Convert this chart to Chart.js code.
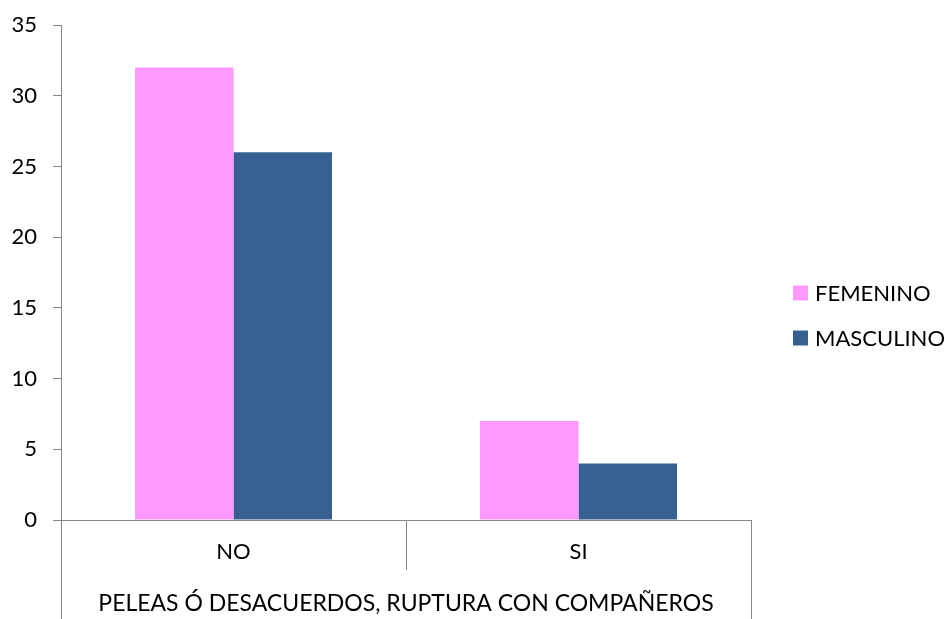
<!DOCTYPE html>
<html>
<head>
<meta charset="utf-8">
<script src="https://cdn.jsdelivr.net/npm/chart.js@4"></script>
<style>
  html, body { margin: 0; padding: 0; background: #fff; }
  #wrap { width: 945px; height: 619px; }
</style>
</head>
<body>
<div id="wrap"><canvas id="c" width="945" height="619"></canvas></div>
<script>
const categories = ['NO', 'SI'];
const groupTitle = 'PELEAS Ó DESACUERDOS, RUPTURA CON COMPAÑEROS';
const seriesNames = ['FEMENINO', 'MASCULINO'];
const femenino = [32, 7];
const masculino = [26, 4];
const yTicks = [0, 5, 10, 15, 20, 25, 30, 35];

const FONT = 'Lato, "Open Sans", sans-serif';
const AXIS = '#868686';
const COLORS = ['#FF99FF', '#376092'];

// Outer group borders below the category row and a right-hand legend
const extras = {
  id: 'extras',
  afterDraw(chart) {
    const ctx = chart.ctx;
    const a = chart.chartArea;
    ctx.save();
    ctx.strokeStyle = AXIS;
    ctx.lineWidth = 1;
    [a.left, a.right].forEach(x => {
      const px = Math.round(x) + 0.5;
      ctx.beginPath();
      ctx.moveTo(px, a.bottom);
      ctx.lineTo(px, chart.height);
      ctx.stroke();
    });
    // legend
    const lx = a.right + 42, ys = [293, 338];
    ctx.font = '22px ' + FONT;
    ctx.textBaseline = 'middle';
    ctx.fillStyle = '#000';
    chart.data.datasets.forEach((ds, i) => {
      ctx.fillStyle = ds.backgroundColor;
      ctx.fillRect(lx, ys[i] - 7.5, 15, 15);
      ctx.fillStyle = '#000';
      ctx.fillText(ds.label, lx + 22, ys[i] + 1);
    });
    ctx.restore();
  }
};

new Chart(document.getElementById('c'), {
  type: 'bar',
  data: {
    labels: categories,
    datasets: [
      { label: seriesNames[0], data: femenino, backgroundColor: COLORS[0] },
      { label: seriesNames[1], data: masculino, backgroundColor: COLORS[1] }
    ]
  },
  options: {
    responsive: false,
    animation: false,
    devicePixelRatio: 1,
    layout: { padding: { top: 25, right: 194, left: 0, bottom: 0 } },
    plugins: { legend: { display: false }, tooltip: { enabled: false } },
    datasets: { bar: { categoryPercentage: 0.571, barPercentage: 1 } },
    scales: {
      x: {
        offset: true,
        grid: { display: true, offset: true, drawOnChartArea: false, drawTicks: true, tickLength: 50, color: AXIS },
        border: { display: true, color: AXIS },
        ticks: { color: '#000', font: { family: FONT, size: 22 }, padding: -31 },
        title: { display: true, text: groupTitle, color: '#000', font: { family: FONT, size: 23 }, padding: { top: 0, bottom: 2 } },
        afterFit(scale) { scale.height = 99; scale.paddingLeft = 0; scale.paddingRight = 0; }
      },
      y: {
        min: 0, max: 35,
        afterBuildTicks(scale) { scale.ticks = yTicks.map(v => ({ value: v })); },
        grid: { display: true, drawOnChartArea: false, drawTicks: true, tickLength: 8, color: AXIS },
        border: { display: true, color: AXIS },
        ticks: { color: '#000', font: { family: FONT, size: 22 }, padding: 16 },
        afterFit(scale) { scale.width = 61; scale.paddingTop = 0; scale.paddingBottom = 0; }
      }
    }
  },
  plugins: [extras]
});
</script>
</body>
</html>
